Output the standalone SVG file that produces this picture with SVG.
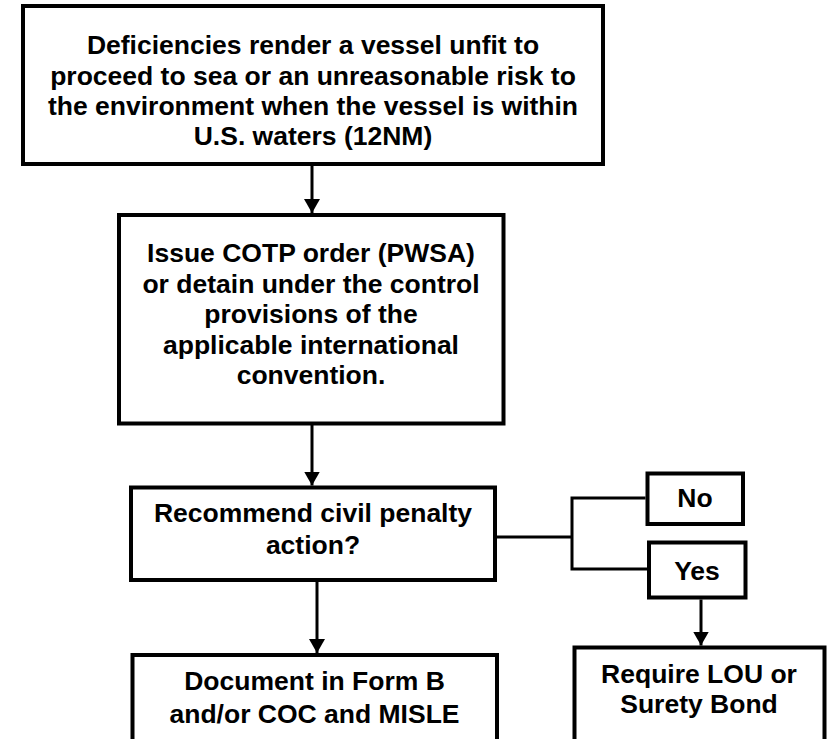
<svg xmlns="http://www.w3.org/2000/svg" width="831" height="739" viewBox="0 0 831 739">
<style>
.box{fill:#fff;stroke:#000;stroke-width:4}
.t{font-family:"Liberation Sans",Arial,sans-serif;font-weight:bold;font-size:26.5px;fill:#000;text-anchor:middle}
.c{fill:none;stroke:#000;stroke-width:3}
</style>
<defs>
<marker id="ah" markerWidth="14" markerHeight="16" refX="14" refY="8" orient="auto" markerUnits="userSpaceOnUse" viewBox="0 0 14 16">
<path d="M0,0 L14,8 L0,16 Z" fill="#000"/>
</marker>
</defs>
<rect width="831" height="739" fill="#fff"/>
<g id="n1">
<rect class="box" x="23" y="6" width="580" height="158"/>
<text class="t" x="313" y="54">Deficiencies render a vessel unfit to</text>
<text class="t" x="313" y="84.5">proceed to sea or an unreasonable risk to</text>
<text class="t" x="313" y="115">the environment when the vessel is within</text>
<text class="t" x="313" y="145">U.S. waters (12NM)</text>
</g>
<g id="n2">
<rect class="box" x="119" y="215" width="384.5" height="208.5"/>
<text class="t" x="311" y="262">Issue COTP order (PWSA)</text>
<text class="t" x="311" y="292.5">or detain under the control</text>
<text class="t" x="311" y="323">provisions of the</text>
<text class="t" x="311" y="353.5">applicable international</text>
<text class="t" x="311" y="384">convention.</text>
</g>
<g id="n3">
<rect class="box" x="131" y="487.5" width="364" height="92.5"/>
<text class="t" x="313" y="522">Recommend civil penalty</text>
<text class="t" x="313" y="554">action?</text>
</g>
<g id="n4">
<rect class="box" x="132.5" y="655" width="364.5" height="100"/>
<text class="t" x="314.5" y="690">Document in Form B</text>
<text class="t" x="314.5" y="723">and/or COC and MISLE</text>
</g>
<g id="n5">
<rect class="box" x="647.5" y="473.5" width="95.5" height="50.5"/>
<text class="t" x="695" y="507">No</text>
</g>
<g id="n6">
<rect class="box" x="649" y="542.5" width="96.5" height="55"/>
<text class="t" x="697" y="580">Yes</text>
</g>
<g id="n7">
<rect class="box" x="574.5" y="647.5" width="250" height="100"/>
<text class="t" x="699" y="683">Require LOU or</text>
<text class="t" x="699" y="713">Surety Bond</text>
</g>
<g id="connectors">
<line class="c" x1="312" y1="164" x2="312" y2="213" marker-end="url(#ah)"/>
<line class="c" x1="312" y1="425" x2="312" y2="485.5" marker-end="url(#ah)"/>
<line class="c" x1="317" y1="582" x2="317" y2="653" marker-end="url(#ah)"/>
<line class="c" x1="497" y1="537" x2="572" y2="537"/>
<polyline class="c" points="645.5,498 572,498 572,569 647,569"/>
<line class="c" x1="701" y1="599.5" x2="701" y2="645.5" marker-end="url(#ah)"/>
</g>
</svg>
